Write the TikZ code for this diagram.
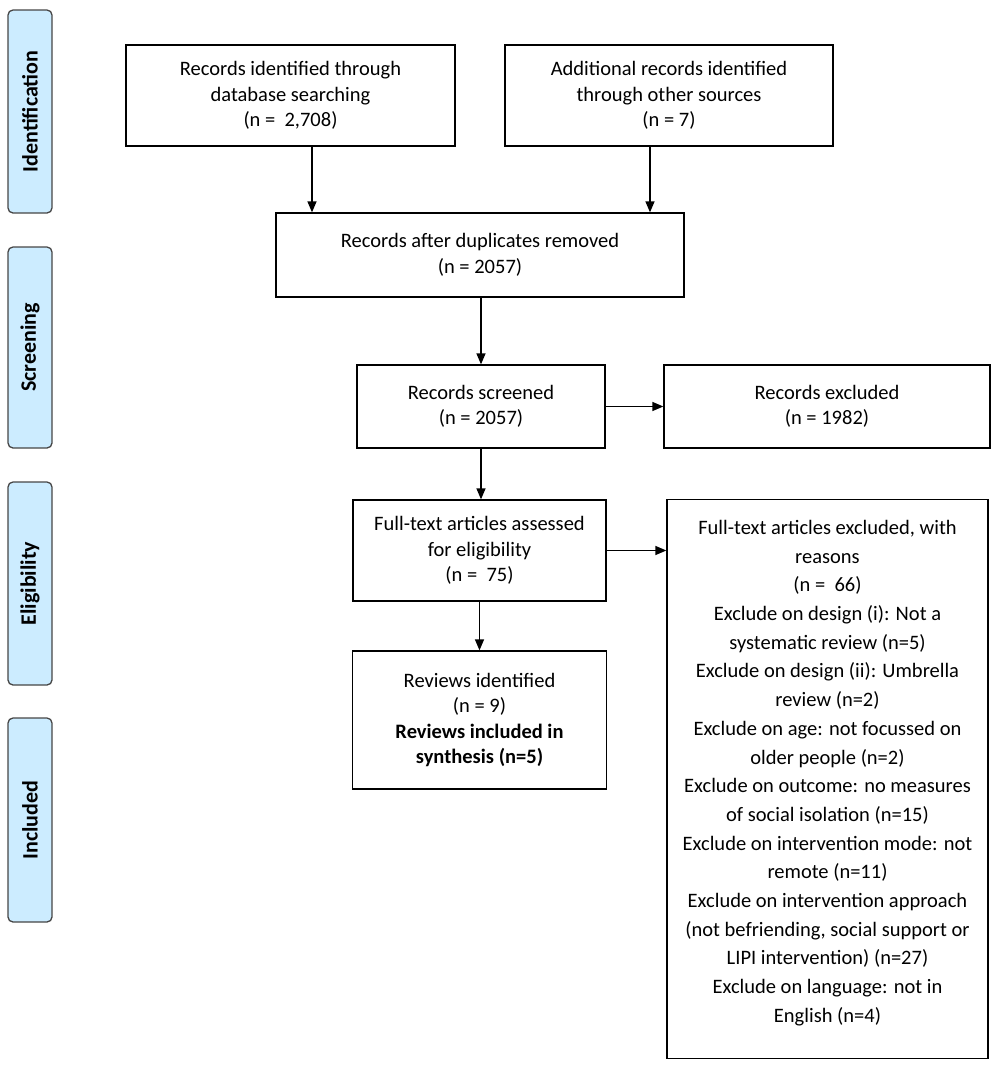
\documentclass[tikz,border=0pt]{standalone}
\usepackage{fontspec}
\setmainfont{Carlito}
\usetikzlibrary{arrows.meta}
\definecolor{sidefill}{RGB}{204,236,255}
\definecolor{sidedraw}{RGB}{70,70,70}
\tikzset{
  box/.style={draw=black, line width=1.3pt, align=center, inner sep=2pt,
    font=\fontsize{20.5}{25.5}\selectfont},
  side/.style={draw=sidedraw, fill=sidefill, line width=1.3pt, rounded corners=5pt,
    rotate=90, minimum height=44pt, font=\fontsize{22}{26}\selectfont\bfseries, inner sep=0pt},
  arr/.style={line width=1.3pt, -{Triangle[length=11pt,width=9pt]}}
}
\begin{document}
\begin{tikzpicture}[x=1pt,y=-1pt]
\useasboundingbox (0,0) rectangle (1000,1072);
% side labels
\node[side, minimum width=203pt] (s1) at (30,111.5) {Identification};
\node[side, minimum width=201pt] (s2) at (30,347.5) {Screening};
\node[side, minimum width=203pt] (s3) at (30,583.5) {Eligibility};
\node[side, minimum width=204pt] (s4) at (30,820) {Included};
% boxes
\node[box, minimum width=329pt, minimum height=101pt] (A) at (290.5,95.5)
  {Records identified through\\database searching\\(n =\ \ 2,708)};
\node[box, minimum width=328pt, minimum height=101pt] (B) at (669,95.5)
  {Additional records identified\\through other sources\\(n = 7)};
\node[box, minimum width=408pt, minimum height=84pt] (C) at (480,255)
  {Records after duplicates removed\\(n = 2057)};
\node[box, minimum width=248pt, minimum height=83pt] (D) at (481,406.5)
  {Records screened\\(n = 2057)};
\node[box, minimum width=326pt, minimum height=83pt] (E) at (827,406.5)
  {Records excluded\\(n = 1982)};
\node[box, minimum width=253pt, minimum height=101pt] (F) at (479.5,550.5)
  {Full-text articles assessed\\for eligibility\\(n =\ \ 75)};
\node[box, minimum width=321pt, minimum height=559pt, anchor=north] (G) at (827.5,498.5)
  {};
\node[align=center, font=\fontsize{20.5}{28.7}\selectfont, anchor=north, inner sep=0pt] (Gt) at (827.5,520)
  {Full-text articles excluded, with\\reasons\\(n =\ \ 66)\\Exclude on design (i): Not a\\systematic review (n=5)\\Exclude on design (ii): Umbrella\\review (n=2)\\Exclude on age: not focussed on\\older people (n=2)\\Exclude on outcome: no measures\\of social isolation (n=15)\\Exclude on intervention mode: not\\remote (n=11)\\Exclude on intervention approach\\(not befriending, social support or\\LIPI intervention) (n=27)\\Exclude on language: not in\\English (n=4)};
\node[box, minimum width=254pt, minimum height=138pt] (H) at (479.5,720)
  {Reviews identified\\(n = 9)\\\textbf{Reviews included in}\\\textbf{synthesis (n=5)}};
% arrows
\draw[arr] ([xshift=21.5pt]A.south) -- ([xshift=21.5pt]A.south |- C.north);
\draw[arr] ([xshift=-19pt]B.south) -- ([xshift=-19pt]B.south |- C.north);
\draw[arr] (C.south -| D.north) -- (D.north);
\draw[arr] (D.east) -- (E.west);
\draw[arr] (D.south) -- (D.south |- F.north);
\draw[arr] (F.east) -- (F.east -| G.west);
\draw[arr] (F.south) -- (F.south |- H.north);
\end{tikzpicture}
\end{document}
